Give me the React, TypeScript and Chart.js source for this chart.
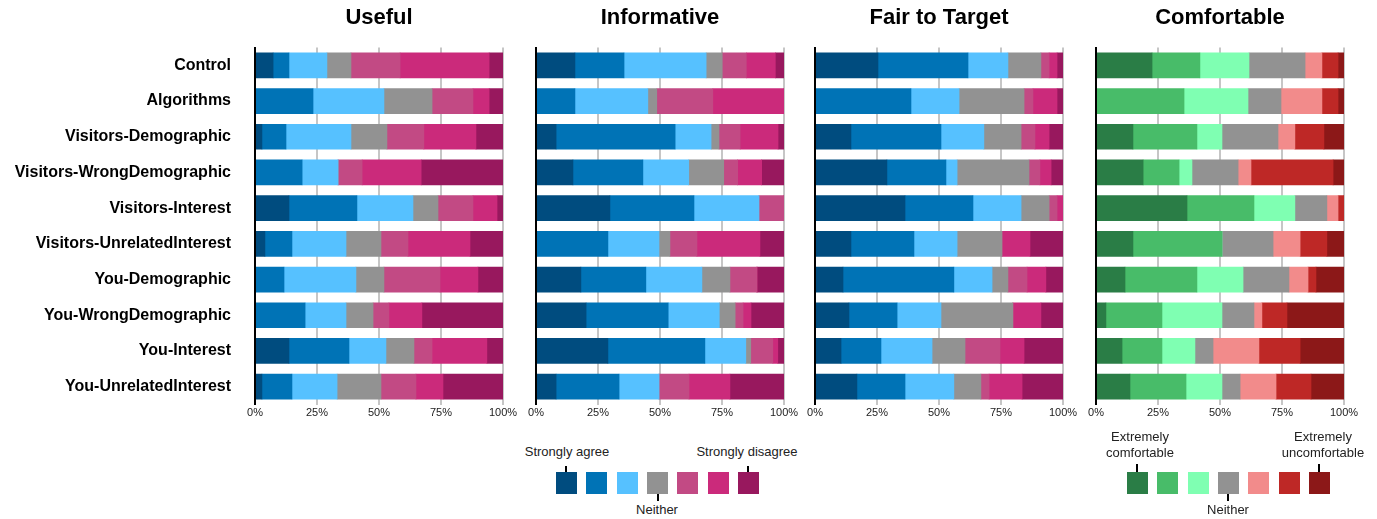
import React, { useEffect, useRef } from "react";
import { Chart, registerables } from "chart.js";

Chart.register(...registerables);

const categories = [
  "Control",
  "Algorithms",
  "Visitors-Demographic",
  "Visitors-WrongDemographic",
  "Visitors-Interest",
  "Visitors-UnrelatedInterest",
  "You-Demographic",
  "You-WrongDemographic",
  "You-Interest",
  "You-UnrelatedInterest",
];

const panelTitles = ["Useful", "Informative", "Fair to Target", "Comfortable"];

const agreeLevels = [
  "Strongly agree",
  "Agree",
  "Somewhat agree",
  "Neither",
  "Somewhat disagree",
  "Disagree",
  "Strongly disagree",
];
const comfortLevels = [
  "Extremely comfortable",
  "Comfortable",
  "Somewhat comfortable",
  "Neither",
  "Somewhat uncomfortable",
  "Uncomfortable",
  "Extremely uncomfortable",
];

const agreeColors = ["#004C7F", "#0073B6", "#56C1FF", "#929292", "#C24A84", "#CB2A7B", "#98185E"];
const comfortColors = ["#2A7D46", "#48BC69", "#7FFFB2", "#929292", "#F28B8B", "#BE2826", "#8C1818"];

const xTickValues = [0, 25, 50, 75, 100];

// rows follow categories; columns follow the 7 response levels (percent)
const usefulValues = [
  [7.3, 6.4, 15.3, 9.7, 19.8, 35.9, 5.6],
  [0, 23.4, 28.6, 19.4, 16.5, 6.5, 5.6],
  [2.8, 9.7, 26.2, 14.5, 14.9, 21.0, 10.9],
  [0, 19.0, 14.5, 0, 9.7, 23.8, 33.0],
  [13.7, 27.4, 22.6, 10.1, 14.1, 9.7, 2.4],
  [4.0, 10.9, 21.8, 14.1, 10.9, 25.0, 13.3],
  [0, 11.7, 29.0, 11.3, 22.6, 15.3, 10.1],
  [0, 20.2, 16.5, 10.9, 6.4, 13.3, 32.7],
  [13.7, 24.2, 14.9, 11.3, 7.3, 22.1, 6.5],
  [2.8, 12.1, 18.2, 17.7, 14.1, 10.9, 24.2],
];

const informativeValues = [
  [15.7, 19.8, 33.1, 6.5, 9.7, 11.7, 3.5],
  [0, 15.7, 29.4, 3.6, 22.6, 28.7, 0],
  [8.1, 48.0, 14.5, 3.2, 8.5, 15.3, 2.4],
  [14.9, 28.2, 18.5, 14.1, 5.6, 9.7, 9.0],
  [29.8, 33.9, 26.2, 0, 10.1, 0, 0],
  [0, 29.0, 20.6, 4.4, 10.9, 25.4, 9.7],
  [18.1, 26.2, 22.6, 11.3, 10.9, 0, 10.9],
  [20.2, 33.1, 20.6, 6.4, 3.2, 3.2, 13.3],
  [29.0, 39.1, 16.5, 2.0, 8.9, 2.0, 2.5],
  [8.1, 25.4, 16.1, 0, 12.1, 16.5, 21.8],
];

const fairValues = [
  [25.4, 36.3, 16.1, 13.3, 3.3, 3.2, 2.4],
  [0, 38.7, 19.4, 26.2, 3.6, 9.7, 2.4],
  [14.5, 36.3, 17.3, 15.0, 5.6, 5.7, 5.6],
  [29.0, 23.8, 4.5, 29.0, 4.4, 4.5, 4.8],
  [36.3, 27.4, 19.4, 11.3, 3.2, 2.4, 0],
  [14.5, 25.4, 17.4, 18.1, 0, 11.3, 13.3],
  [11.3, 44.7, 15.4, 6.4, 7.7, 7.6, 6.9],
  [13.7, 19.4, 17.7, 29.0, 0, 11.3, 8.9],
  [10.5, 16.1, 20.6, 13.3, 14.1, 9.7, 15.7],
  [16.9, 19.4, 19.7, 10.9, 3.3, 13.3, 16.5],
];

const comfortableValues = [
  [22.6, 19.3, 19.8, 22.6, 6.8, 6.5, 2.4],
  [0, 35.5, 25.8, 13.3, 16.5, 6.5, 2.4],
  [14.9, 25.8, 10.1, 22.6, 6.8, 11.7, 8.1],
  [19.0, 14.5, 5.2, 18.6, 5.2, 33.1, 4.4],
  [36.7, 27.0, 16.5, 12.9, 4.5, 2.4, 0],
  [14.9, 35.9, 0, 20.6, 10.9, 10.8, 6.9],
  [11.7, 29.0, 18.6, 18.5, 7.7, 3.2, 11.3],
  [4.0, 22.6, 24.2, 12.9, 3.2, 10.1, 23.0],
  [10.5, 16.1, 13.3, 7.3, 18.5, 16.6, 17.7],
  [13.7, 22.6, 14.5, 7.3, 14.5, 14.1, 13.3],
];

const FONT = '"Liberation Sans", Arial, Helvetica, sans-serif';
const CANVAS_H = 430;

type PanelProps = {
  title: string;
  values: number[][];
  levels: string[];
  colors: string[];
  left: number;
  width: number;
  axisWidth: number;
  showLabels: boolean;
};

function Panel({ title, values, levels, colors, left, width, axisWidth, showLabels }: PanelProps) {
  const ref = useRef<HTMLCanvasElement | null>(null);
  useEffect(() => {
    if (!ref.current) return;
    const chart = new Chart(ref.current, {
      type: "bar",
      data: {
        labels: categories,
        datasets: levels.map((lv, j) => ({
          label: lv,
          data: values.map((row) => row[j]),
          backgroundColor: colors[j],
          borderWidth: 0,
          barThickness: 25,
        })),
      },
      options: {
        indexAxis: "y",
        responsive: false,
        maintainAspectRatio: false,
        animation: false,
        layout: { padding: { left: 0, right: 20, top: 0, bottom: 0 } },
        plugins: {
          legend: { display: false },
          tooltip: { enabled: false },
          title: {
            display: true,
            fullSize: false,
            text: title,
            color: "#000",
            font: { family: FONT, size: 22, weight: "bold", lineHeight: 1.2 },
            padding: { top: 4.8, bottom: 16.3 },
          },
        },
        scales: {
          x: {
            stacked: true,
            min: 0,
            max: 100,
            afterBuildTicks: (s: any) => {
              s.ticks = xTickValues.map((v) => ({ value: v }));
            },
            ticks: {
              callback: (v: any) => v + "%",
              color: "#222",
              font: { family: FONT, size: 11 },
              padding: 2,
              maxRotation: 0,
              autoSkip: false,
            },
            grid: { color: "#c6c6c6", lineWidth: 2, drawTicks: false, z: -1 },
            border: { display: false },
            afterFit: (s: any) => {
              s.height = 25.5;
            },
          },
          y: {
            stacked: true,
            ticks: {
              display: showLabels,
              color: "#000",
              font: { family: FONT, size: 16, weight: "bold" },
              padding: 0,
              autoSkip: false,
            },
            grid: { display: false, drawTicks: true, tickLength: 24 },
            border: { display: true, color: "#000", width: 2, z: 1 },
            afterFit: (s: any) => {
              s.width = axisWidth;
            },
          },
        },
      } as any,
    });
    return () => chart.destroy();
  }, []);
  return (
    <canvas
      ref={ref}
      width={width}
      height={CANVAS_H}
      style={{ position: "absolute", left, top: 0, width, height: CANVAS_H }}
    />
  );
}

const textStyle: React.CSSProperties = {
  position: "absolute",
  fontFamily: FONT,
  fontSize: 13,
  lineHeight: "16px",
  color: "#222",
  textAlign: "center",
  width: 200,
  whiteSpace: "nowrap",
};

function Label({ cx, cy, lines }: { cx: number; cy: number; lines: string[] }) {
  const h = lines.length * 16;
  return (
    <div style={{ ...textStyle, left: cx - 100, top: cy - h / 2 }}>
      {lines.map((l, i) => (
        <div key={i}>{l}</div>
      ))}
    </div>
  );
}

function Tick({ x, y1, y2 }: { x: number; y1: number; y2: number }) {
  return (
    <div
      style={{ position: "absolute", left: x - 1, top: y1, width: 2, height: y2 - y1, background: "#000" }}
    />
  );
}

function LegendSwatches({ startX, step, colors }: { startX: number; step: number; colors: string[] }) {
  return (
    <>
      {colors.map((c, i) => (
        <div
          key={i}
          style={{
            position: "absolute",
            left: startX + i * step,
            top: 472,
            width: 21,
            height: 22,
            background: c,
          }}
        />
      ))}
    </>
  );
}

export default function App() {
  const panelValues = [usefulValues, informativeValues, fairValues, comfortableValues];
  const plotLefts = [255, 536, 815, 1096];
  return (
    <div style={{ position: "absolute", left: 0, top: 0, width: 1377, height: 519, background: "#fff" }}>
      {panelValues.map((vals, i) => {
        const first = i === 0;
        const canvasLeft = first ? 0 : plotLefts[i] - 20;
        const axisWidth = first ? plotLefts[0] : 20;
        const width = axisWidth + 248 + 20;
        return (
          <Panel
            key={i}
            title={panelTitles[i]}
            values={vals}
            levels={i === 3 ? comfortLevels : agreeLevels}
            colors={i === 3 ? comfortColors : agreeColors}
            left={canvasLeft}
            width={width}
            axisWidth={axisWidth}
            showLabels={first}
          />
        );
      })}

      {/* Agreement legend */}
      <LegendSwatches startX={556} step={30.3} colors={agreeColors} />
      <Tick x={566} y1={466} y2={472} />
      <Tick x={657.5} y1={494} y2={501} />
      <Tick x={748} y1={466} y2={472} />
      <Label cx={567} cy={452} lines={["Strongly agree"]} />
      <Label cx={747} cy={452} lines={["Strongly disagree"]} />
      <Label cx={657} cy={510} lines={["Neither"]} />

      {/* Comfort legend */}
      <LegendSwatches startX={1127} step={30.3} colors={comfortColors} />
      <Tick x={1137} y1={464} y2={472} />
      <Tick x={1228} y1={494} y2={501} />
      <Tick x={1319} y1={464} y2={472} />
      <Label cx={1140} cy={445} lines={["Extremely", "comfortable"]} />
      <Label cx={1323} cy={445} lines={["Extremely", "uncomfortable"]} />
      <Label cx={1228} cy={510} lines={["Neither"]} />
    </div>
  );
}
